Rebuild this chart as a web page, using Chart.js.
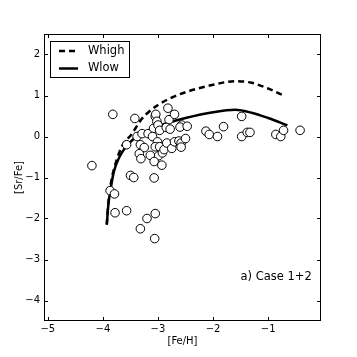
<!DOCTYPE html>
<html>
<head>
<meta charset="utf-8">
<script src="https://cdn.jsdelivr.net/npm/chart.js@4.4.0/dist/chart.umd.min.js"></script>
<style>
html,body{margin:0;padding:0;background:#fff;}
#wrap{width:357px;height:357px;}
</style>
</head>
<body>
<div id="wrap"><canvas id="c" width="357" height="357"></canvas></div>
<script>
// Observed stars [Fe/H], [Sr/Fe]
const starFeH = [-4.2,-3.82,-3.87,-3.79,-3.78,-3.57,-3.57,-3.42,-3.38,-3.50,-3.44,-3.29,-3.32,-3.25,-3.34,-3.31,-3.18,-3.08,-3.10,-3.05,-3.04,-3.02,-3.0,-2.97,-3.01,-3.05,-2.97,-2.99,-3.14,-3.07,-2.93,-2.92,-2.89,-3.07,-3.05,-3.20,-3.32,-3.06,-2.82,-2.80,-2.85,-2.78,-2.84,-2.75,-2.70,-2.70,-2.62,-2.58,-2.58,-2.57,-2.60,-2.47,-2.50,-2.13,-2.07,-1.92,-1.81,-1.48,-1.48,-1.38,-1.33,-0.86,-0.77,-0.72,-0.42];
const starSrFe = [-0.71,0.54,-1.32,-1.40,-1.86,-1.81,-0.20,0.44,0.0,-0.95,-1.0,0.07,-0.20,-0.27,-0.42,-0.54,0.07,0.20,0.0,0.49,0.54,0.37,0.28,0.15,-0.13,-0.25,-0.25,-0.47,-0.46,-0.61,-0.70,-0.40,-0.32,-1.01,-1.88,-2.0,-2.25,-2.49,0.69,0.41,0.22,0.18,-0.16,-0.29,0.54,-0.13,-0.11,-0.16,-0.26,0.28,0.23,0.25,-0.05,0.13,0.05,0.0,0.24,0.49,0.0,0.10,0.10,0.05,0.0,0.15,0.15];
// Model curves
const highFeH = [-3.93,-3.9,-3.85,-3.8,-3.7,-3.6,-3.5,-3.4,-3.3,-3.2,-3.0,-2.8,-2.5,-2.0,-1.6,-1.3,-1.0,-0.75];
const highSrFe = [-2.15,-1.6,-1.1,-0.8,-0.38,-0.12,0.02,0.22,0.42,0.56,0.77,0.92,1.08,1.26,1.35,1.31,1.17,1.02];
const lowFeH = [-3.93,-3.9,-3.85,-3.8,-3.7,-3.6,-3.5,-3.4,-3.3,-3.2,-3.0,-2.8,-2.5,-2.0,-1.6,-1.3,-1.0,-0.65];
const lowSrFe = [-2.15,-1.65,-1.2,-0.85,-0.5,-0.28,-0.13,-0.02,0.06,0.13,0.25,0.34,0.45,0.59,0.65,0.58,0.45,0.27];
const xTicks = [-5,-4,-3,-2,-1];
const yTicks = [-4,-3,-2,-1,0,1,2];
const seriesNames = ['Whigh','Wlow'];
const annotation = 'a) Case 1+2';

const FONT = "'DejaVu Sans', sans-serif";
const fmt = v => (v < 0 ? '\u2212' + Math.abs(v) : String(v));
const pts = (xs, ys) => xs.map((x, i) => ({x, y: ys[i]}));

const frame = {
  id: 'frame',
  afterDatasetsDraw(chart) {
    const {ctx, chartArea: a, scales: {x, y}} = chart;
    ctx.save();
    ctx.strokeStyle = '#000';
    ctx.lineWidth = 1;
    ctx.beginPath();
    const L = 4;
    xTicks.forEach(v => {
      const px = Math.round(x.getPixelForValue(v)) + 0.5;
      ctx.moveTo(px, a.bottom); ctx.lineTo(px, a.bottom - L);
      ctx.moveTo(px, a.top); ctx.lineTo(px, a.top + L);
    });
    yTicks.forEach(v => {
      const py = Math.round(y.getPixelForValue(v)) + 0.5;
      ctx.moveTo(a.left, py); ctx.lineTo(a.left + L, py);
      ctx.moveTo(a.right, py); ctx.lineTo(a.right - L, py);
    });
    ctx.stroke();
    ctx.strokeRect(Math.round(a.left) + 0.5, Math.round(a.top) + 0.5, Math.round(a.right - a.left) - 1, Math.round(a.bottom - a.top) - 1);
    // legend
    const bx = 50.5, by = 41.5, bw = 79, bh = 36;
    ctx.fillStyle = '#fff';
    ctx.fillRect(bx, by, bw, bh);
    ctx.strokeRect(bx, by, bw, bh);
    ctx.lineWidth = 2.5;
    ctx.setLineDash([6, 4]);
    ctx.beginPath(); ctx.moveTo(59, 51); ctx.lineTo(78, 51); ctx.stroke();
    ctx.setLineDash([]);
    ctx.beginPath(); ctx.moveTo(59, 68.5); ctx.lineTo(78, 68.5); ctx.stroke();
    ctx.fillStyle = '#000';
    ctx.font = '11.5px ' + FONT;
    ctx.textBaseline = 'middle';
    ctx.textAlign = 'left';
    ctx.fillText(seriesNames[0], 88, 51);
    ctx.fillText(seriesNames[1], 88, 68.5);
    ctx.fillText(annotation, 240.5, 277.5);
    ctx.restore();
  }
};

new Chart(document.getElementById('c'), {
  type: 'scatter',
  data: {
    datasets: [
      {label: seriesNames[0], type: 'line', data: pts(highFeH, highSrFe), borderColor: '#000', borderWidth: 2.5, borderDash: [6, 4], pointRadius: 0, fill: false, cubicInterpolationMode: 'monotone', order: 2},
      {label: seriesNames[1], type: 'line', data: pts(lowFeH, lowSrFe), borderColor: '#000', borderWidth: 2.5, pointRadius: 0, fill: false, cubicInterpolationMode: 'monotone', order: 1},
      {label: 'stars', data: pts(starFeH, starSrFe), backgroundColor: '#fff', borderColor: '#000', borderWidth: 1, pointRadius: 4.3, pointHoverRadius: 4.3, order: 0}
    ]
  },
  options: {
    responsive: false,
    animation: false,
    events: [],
    layout: {padding: {left: 0, right: 36, top: 34, bottom: 0}},
    plugins: {legend: {display: false}, tooltip: {enabled: false}},
    scales: {
      x: {
        type: 'linear', min: -5.07, max: -0.04,
        afterBuildTicks: s => { s.ticks = xTicks.map(v => ({value: v})); },
        afterFit: s => { s.height = 36; },
        grid: {display: false, drawTicks: false},
        border: {display: false},
        ticks: {color: '#000', font: {family: FONT, size: 10}, padding: 2, callback: v => fmt(v), maxRotation: 0, autoSkip: false},
        title: {display: true, text: '[Fe/H]', color: '#000', font: {family: FONT, size: 10}, padding: {top: 1, bottom: 10}}
      },
      y: {
        type: 'linear', min: -4.5, max: 2.5,
        afterBuildTicks: s => { s.ticks = yTicks.map(v => ({value: v})); },
        afterFit: s => { s.width = 44; },
        grid: {display: false, drawTicks: false},
        border: {display: false},
        ticks: {color: '#000', font: {family: FONT, size: 10}, padding: 4, callback: v => fmt(v), autoSkip: false},
        title: {display: true, text: '[Sr/Fe]', color: '#000', font: {family: FONT, size: 10}, padding: {top: 13, bottom: 0}}
      }
    }
  },
  plugins: [frame]
});
</script>
</body>
</html>
